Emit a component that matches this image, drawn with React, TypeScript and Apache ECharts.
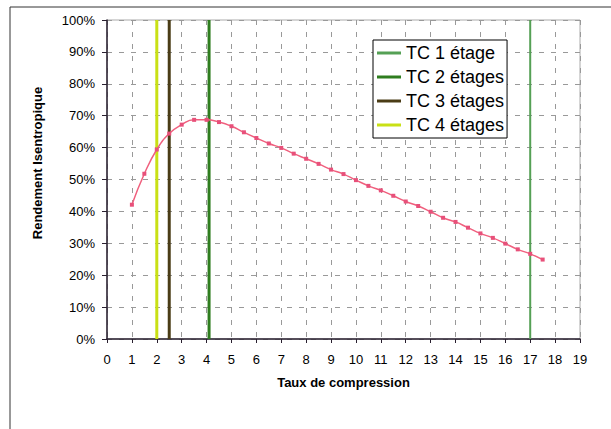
import React, { useEffect, useRef } from "react";
import * as echarts from "echarts";

const compressionRatios = [1, 1.5, 2, 2.5, 3, 3.5, 4, 4.5, 5, 5.5, 6, 6.5, 7, 7.5, 8, 8.5, 9, 9.5, 10, 10.5, 11, 11.5, 12, 12.5, 13, 13.5, 14, 14.5, 15, 15.5, 16, 16.5, 17, 17.5];
const efficiency = [42.1, 51.8, 59.4, 64.4, 67.2, 68.7, 68.7, 68.0, 66.7, 64.8, 63.0, 61.3, 59.9, 58.1, 56.5, 54.9, 53.1, 51.7, 49.8, 48.0, 46.6, 44.9, 43.1, 41.7, 39.9, 38.0, 36.7, 34.9, 33.1, 31.7, 29.9, 28.1, 26.7, 24.9];

const stageNames = ["TC 1 étage", "TC 2 étages", "TC 3 étages", "TC 4 étages"];
const stageRatios = [17, 4.1, 2.5, 2];
const stageColors = ["#55a055", "#2f7d1f", "#4a3c16", "#c9e015"];
const stageWidths = [2, 3, 3, 3];

const xTitle = "Taux de compression";
const yTitle = "Rendement Isentropique";

export default function App() {
  const ref = useRef<HTMLDivElement>(null);
  useEffect(() => {
    if (!ref.current) return;
    const chart = echarts.init(ref.current, null, { renderer: "svg" });
    const font = "'Liberation Sans', Arial, sans-serif";
    const stageSeries = stageNames.map((name, i) => ({
      name,
      type: "line",
      data: [[stageRatios[i], 0], [stageRatios[i], 100]],
      symbol: "none",
      lineStyle: { color: stageColors[i], width: stageWidths[i] },
      itemStyle: { color: stageColors[i] },
      z: 3,
    }));
    chart.setOption({
      animation: false,
      backgroundColor: "#fff",
      textStyle: { fontFamily: font },
      grid: { left: 107, right: 31, top: 20, bottom: 90, show: true, borderColor: "#aaa", borderWidth: 1 },
      legend: {
        data: stageNames,
        orient: "vertical",
        left: 373,
        top: 40,
        icon: "rect",
        itemWidth: 24,
        itemHeight: 3,
        itemGap: 6,
        padding: [4, 3, 4, 4],
        backgroundColor: "#fff",
        borderColor: "#000",
        borderWidth: 1,
        textStyle: { fontSize: 18, color: "#000", fontFamily: font },
      },
      xAxis: {
        type: "value",
        min: 0,
        max: 19,
        interval: 1,
        name: xTitle,
        nameLocation: "middle",
        nameGap: 37,
        nameTextStyle: { fontSize: 13, fontWeight: "bold", color: "#000", fontFamily: font },
        axisLine: { show: true, onZero: false, lineStyle: { color: "#2a2030", width: 1.5 } },
        axisTick: { show: true, length: 4, lineStyle: { color: "#2a2030" } },
        axisLabel: { fontSize: 13, color: "#000", margin: 14, fontFamily: font },
        splitLine: { show: true, lineStyle: { color: "#999", type: [5, 7], width: 1 } },
      },
      yAxis: {
        type: "value",
        min: 0,
        max: 100,
        interval: 10,
        axisLine: { show: true, lineStyle: { color: "#2a2030", width: 1.5 } },
        axisTick: { show: true, length: 5, lineStyle: { color: "#2a2030" } },
        axisLabel: { fontSize: 13, color: "#000", margin: 12, formatter: "{value}%", fontFamily: font },
        splitLine: { show: true, lineStyle: { color: "#999", type: [5, 7], width: 1 } },
      },
      graphic: [
        {
          type: "rect",
          shape: { x: 10, y: 7, width: 700, height: 500 },
          style: { fill: "none", stroke: "#333", lineWidth: 1 },
          silent: true,
        },
        {
          type: "text",
          x: 37,
          y: 163,
          rotation: Math.PI / 2,
          style: {
            text: yTitle,
            fontSize: 13,
            fontWeight: "bold",
            fill: "#000",
            fontFamily: font,
            align: "center",
            verticalAlign: "middle",
          },
        },
      ],
      series: [
        ...stageSeries,
        {
          name: "Rendement",
          type: "line",
          data: compressionRatios.map((x, i) => [x, efficiency[i]]),
          smooth: true,
          symbol: "rect",
          symbolSize: 4,
          lineStyle: { color: "#f0607e", width: 1.5 },
          itemStyle: { color: "#e8507a" },
          z: 5,
        },
      ],
    });
    return () => chart.dispose();
  }, []);
  return (
    <div
      ref={ref}
      style={{ position: "absolute", left: 0, top: 0, width: 611, height: 429, background: "#fff" }}
    />
  );
}
